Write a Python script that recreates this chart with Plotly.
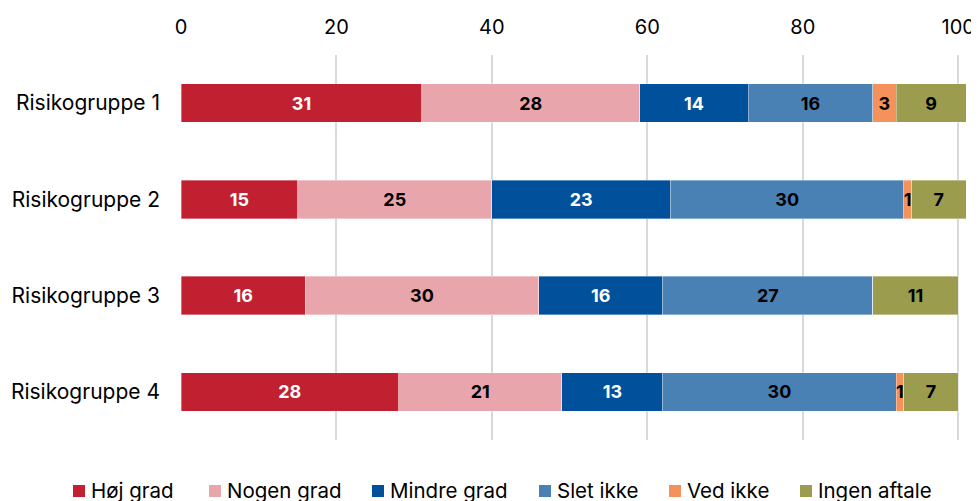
import plotly.graph_objects as go

groups = ["Risikogruppe 1", "Risikogruppe 2", "Risikogruppe 3", "Risikogruppe 4"]
series_names = ["Høj grad", "Nogen grad", "Mindre grad", "Slet ikke", "Ved ikke", "Ingen aftale"]

hoej_grad = [31, 15, 16, 28]
nogen_grad = [28, 25, 30, 21]
mindre_grad = [14, 23, 16, 13]
slet_ikke = [16, 30, 27, 30]
ved_ikke = [3, 1, 0, 1]
ingen_aftale = [9, 7, 11, 7]

values = [hoej_grad, nogen_grad, mindre_grad, slet_ikke, ved_ikke, ingen_aftale]
colors = ["#C0202F", "#E8A6AC", "#00509B", "#4A81B4", "#F5915A", "#9C9C4E"]
text_colors = ["white", "black", "white", "black", "black", "black"]

# the page body has an 8px margin, so the figure is 8px smaller than the window
W, H = 971, 493
M_L, M_R, M_T, M_B = 173, 13, 47, 61
PLOT_W = W - M_L - M_R
PLOT_H = H - M_T - M_B


def px_to_paper(px, py):
    # page pixel (window coords) -> paper coords
    return (px - 8 - M_L) / PLOT_W, 1 - (py - 8 - M_T) / PLOT_H


fig = go.Figure()

for name, vals, color, tcolor in zip(series_names, values, colors, text_colors):
    fig.add_trace(
        go.Bar(
            y=groups,
            x=vals,
            name=name,
            orientation="h",
            marker=dict(color=color, line=dict(color="rgba(255,255,255,0.6)", width=0.6)),
            text=[str(v) if v > 0 else "" for v in vals],
            textposition="inside",
            insidetextanchor="middle",
            textangle=0,
            textfont=dict(color=tcolor, size=18, family="Inter", weight="bold"),
            constraintext="none",
            showlegend=False,
        )
    )

# hand-placed legend along the bottom (plotly's own legend wraps at this width)
legend_left = [73, 209, 372, 539, 669, 800]
legend_y = 491
box = 12
for name, color, lx in zip(series_names, colors, legend_left):
    x0, y0 = px_to_paper(lx, legend_y + box / 2)
    x1, y1 = px_to_paper(lx + box, legend_y - box / 2)
    fig.add_shape(
        type="rect", xref="paper", yref="paper",
        x0=x0, x1=x1, y0=y0, y1=y1,
        fillcolor=color, line=dict(width=0),
    )
    tx, ty = px_to_paper(lx + box + 4, legend_y - 1)
    fig.add_annotation(
        text=name, xref="paper", yref="paper", x=tx, y=ty,
        xanchor="left", yanchor="middle", showarrow=False,
        font=dict(size=20.5, color="black"),
    )

fig.update_layout(
    barmode="stack",
    bargap=0.6,
    width=W,
    height=H,
    margin=dict(l=M_L, r=M_R, t=M_T, b=M_B, autoexpand=False),
    plot_bgcolor="white",
    paper_bgcolor="white",
    font=dict(family="Inter", size=20, color="black"),
    uniformtext=dict(minsize=8, mode="show"),
    showlegend=False,
    xaxis=dict(
        side="top",
        range=[0, 101],
        tickvals=[0, 20, 40, 60, 80, 100],
        showgrid=True,
        gridcolor="#d9d9d9",
        gridwidth=2,
        zeroline=False,
        showline=False,
        ticks="",
        ticklabelstandoff=16,
        tickfont=dict(size=20),
        automargin=False,
    ),
    yaxis=dict(
        autorange="reversed",
        showgrid=False,
        ticks="",
        ticklabelstandoff=20,
        tickfont=dict(size=21),
        automargin=False,
    ),
)

fig.write_html("out.html")
